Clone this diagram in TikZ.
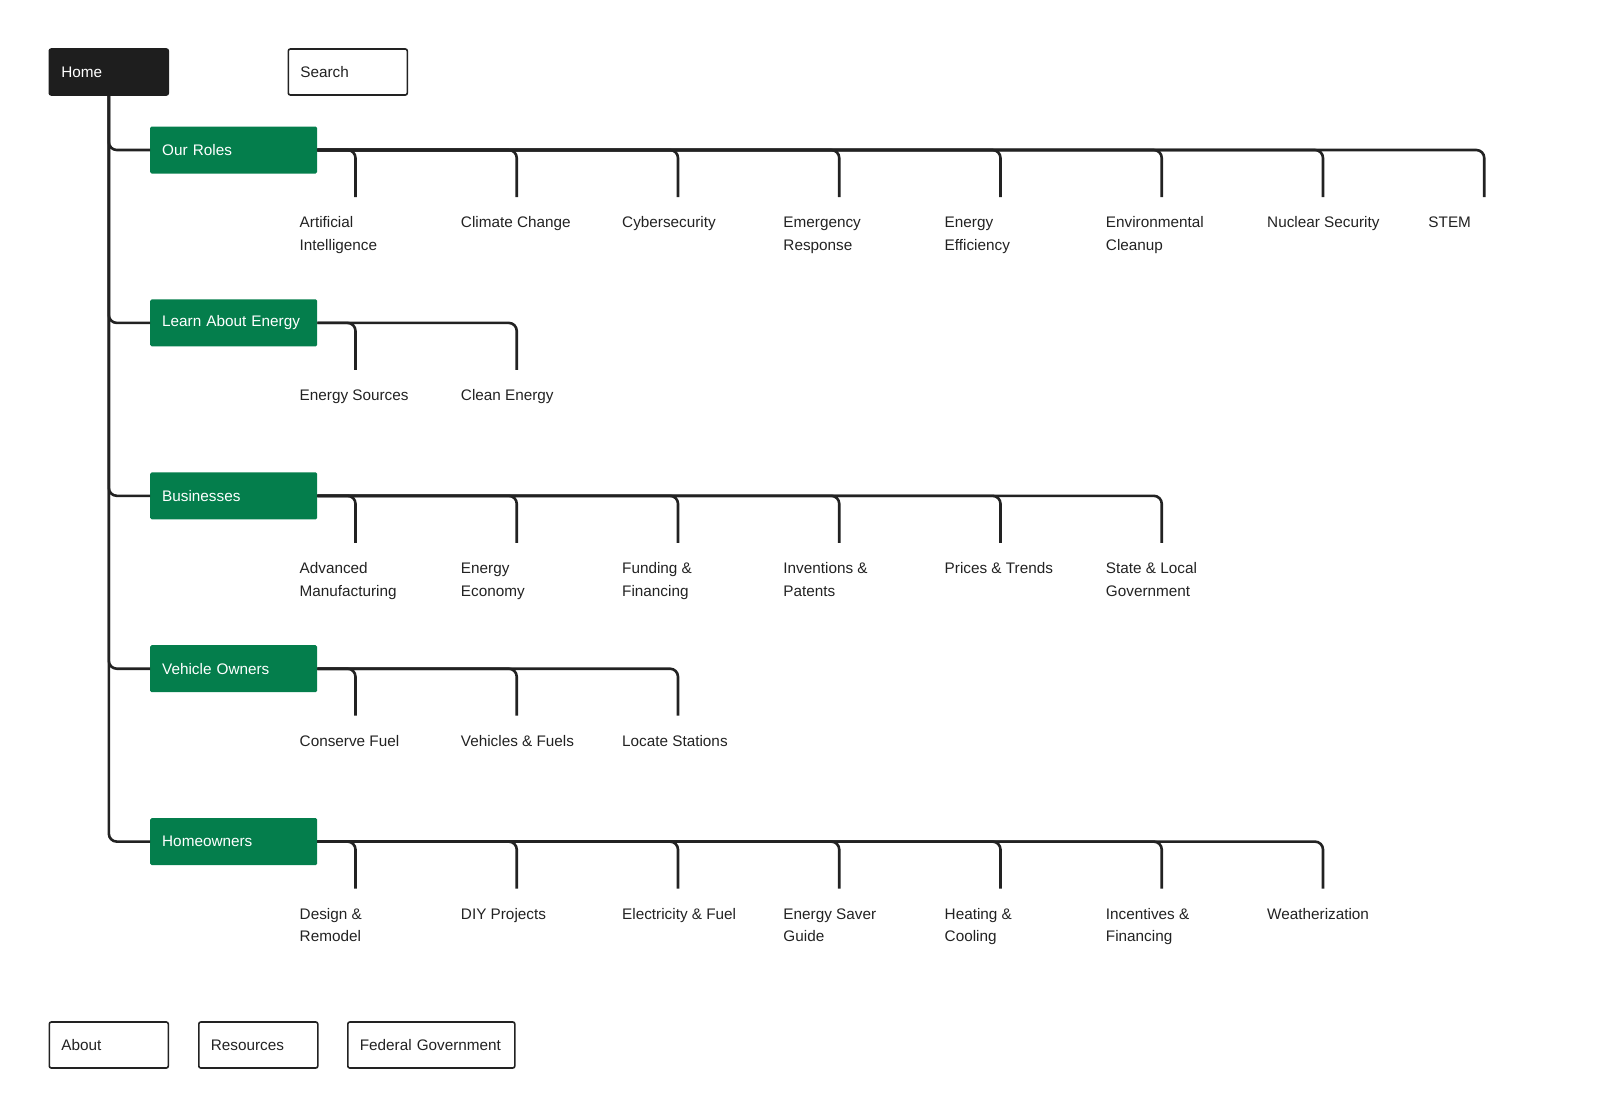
\documentclass[tikz,border=0pt]{standalone}
\usepackage{fontspec}
\setmainfont{Liberation Sans}
\definecolor{doegreen}{HTML}{047E4C}
\definecolor{ink}{HTML}{222222}
\definecolor{homebg}{HTML}{1E1E1E}
\newcommand\leafrow[3]{%
  \foreach \t [count=\i] in {#3}{%
    \coordinate (d#1-\i) at ({355.5+161.25*(\i-1)}, {#2+47});
    \draw[conn] (b#1.east) -| (d#1-\i);
    \node[leaf] (l#1-\i) at ({299.5+161.25*(\i-1)}, {#2+77.5-15.75}) {\strut\t};
  }}
\begin{document}
\begin{tikzpicture}[x=1pt,y=-1pt,
  font=\fontsize{15.3}{22.5}\selectfont,
  conn/.style={draw=ink, line width=2.6pt, rounded corners=8pt},
  gbox/.style={fill=doegreen, text=white, rounded corners=1.5pt, anchor=west,
    text width=143pt, inner xsep=12pt, inner ysep=0pt, minimum height=47pt, align=left},
  obox/.style={draw=ink, line width=1.6pt, fill=white, text=ink, rounded corners=2pt, anchor=west,
    inner xsep=12pt, inner ysep=0pt, minimum height=46pt, align=left},
  leaf/.style={anchor=north west, align=left, inner sep=0pt, text=ink}]
\useasboundingbox (0,0) rectangle (1600,1117);

% top boxes
\node[obox, fill=homebg, draw=homebg, text=white, text width=95pt] (home) at (48.5,72) {Home};
\node[obox, text width=95pt] (search) at (287.5,72) {Search};

% section boxes
\node[gbox] (b1) at (150,150) {Our Roles};
\node[gbox] (b2) at (150,322.9) {Learn About Energy};
\node[gbox] (b3) at (150,495.8) {Businesses};
\node[gbox] (b4) at (150,668.7) {Vehicle Owners};
\node[gbox] (b5) at (150,841.6) {Homeowners};

% trunk
\foreach \k in {1,...,5}{\draw[conn] (home.south) |- (b\k.west);}

% leaves
\leafrow{1}{150}{{Artificial\\Intelligence}, Climate Change, Cybersecurity, {Emergency\\Response}, {Energy\\Efficiency}, {Environmental\\Cleanup}, Nuclear Security, STEM}
\leafrow{2}{322.9}{Energy Sources, Clean Energy}
\leafrow{3}{495.8}{{Advanced\\Manufacturing}, {Energy\\Economy}, {Funding \&\\Financing}, {Inventions \&\\Patents}, Prices \& Trends, {State \& Local\\Government}}
\leafrow{4}{668.7}{Conserve Fuel, Vehicles \& Fuels, Locate Stations}
\leafrow{5}{841.6}{{Design \&\\Remodel}, DIY Projects, Electricity \& Fuel, {Energy Saver\\Guide}, {Heating \&\\Cooling}, {Incentives \&\\Financing}, Weatherization}

% bottom boxes
\node[obox, text width=95pt] (about) at (48.5,1045) {About};
\node[obox, text width=95pt] (resources) at (198,1045) {Resources};
\node[obox, text width=143pt] (federal) at (347,1045) {Federal Government};
\end{tikzpicture}
\end{document}
